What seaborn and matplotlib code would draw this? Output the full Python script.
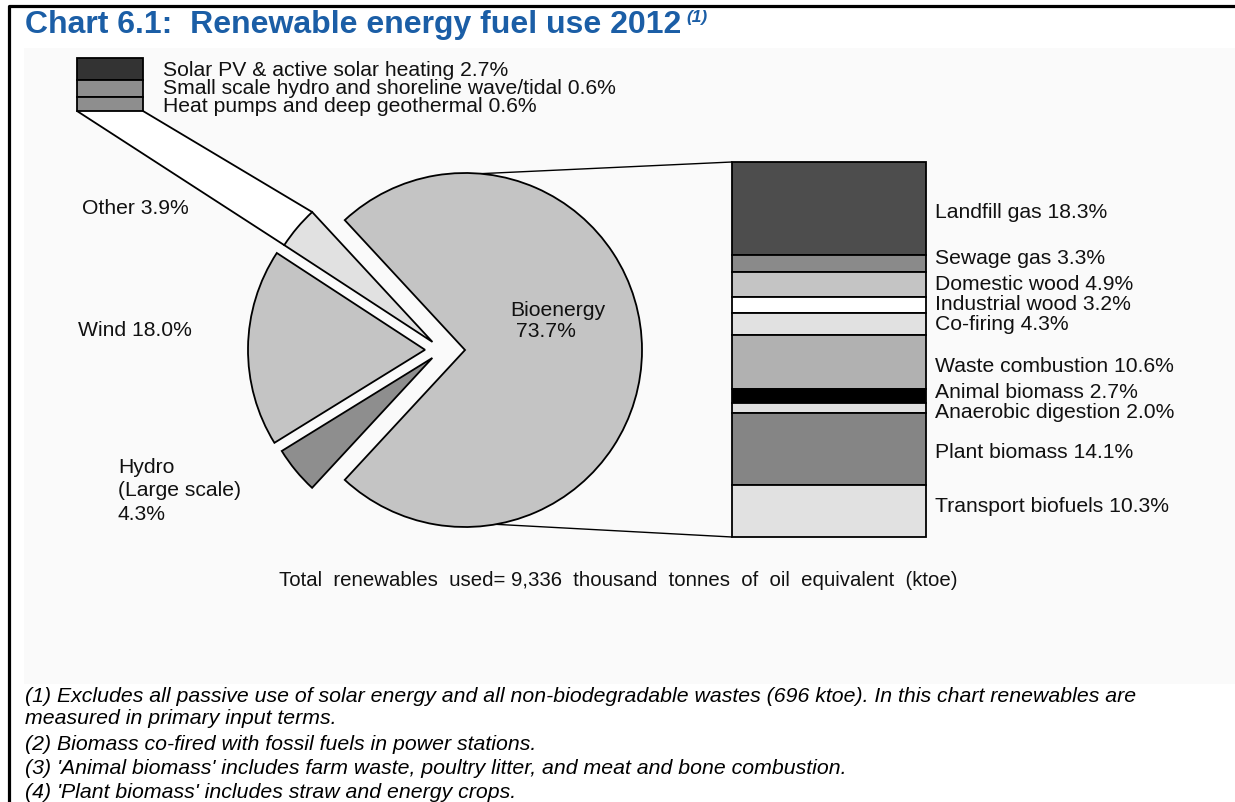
"""
Chart 6.1 - Renewable energy fuel use 2012: pie of the main fuels, with the
bioenergy slice broken down in a stacked bar and "Other" in a small key.
"""

import matplotlib
matplotlib.use("Agg")
import matplotlib.pyplot as plt
from matplotlib.patches import Rectangle
import numpy as np
import seaborn as sns


# ---------------------------------------------------------------- data
pie_labels = ["Bioenergy", "Other", "Wind", "Hydro\n(Large scale)"]
pie_shares = [73.7, 3.9, 18.0, 4.3]
pie_colors = ["#c4c4c4", "#e1e1e1", "#c4c4c4", "#8e8e8e"]

other_labels = [
    "Solar PV & active solar heating",
    "Small scale hydro and shoreline wave/tidal",
    "Heat pumps and deep geothermal",
]
other_shares = [2.7, 0.6, 0.6]
other_colors = ["#333333", "#8e8e8e", "#8e8e8e"]

bio_labels = [
    "Landfill gas", "Sewage gas", "Domestic wood", "Industrial wood",
    "Co-firing", "Waste combustion", "Animal biomass", "Anaerobic digestion",
    "Plant biomass", "Transport biofuels",
]
bio_shares = [18.3, 3.3, 4.9, 3.2, 4.3, 10.6, 2.7, 2.0, 14.1, 10.3]
bio_colors = [
    "#4d4d4d", "#8a8a8a", "#c4c4c4", "#ffffff", "#e1e1e1",
    "#b1b1b1", "#000000", "#e1e1e1", "#858585", "#e1e1e1",
]

total_ktoe = 9336

footnotes = [
    "(1) Excludes all passive use of solar energy and all non-biodegradable "
    "wastes (696 ktoe). In this chart renewables are",
    "measured in primary input terms.",
    "(2) Biomass co-fired with fossil fuels in power stations.",
    "(3) 'Animal biomass' includes farm waste, poultry litter, and meat and "
    "bone combustion.",
    "(4) 'Plant biomass' includes straw and energy crops.",
]

# ---------------------------------------------------------------- layout (pixels)
W, H = 1235, 802
PIE_CENTER = (442, H - 350)
PIE_R = 177
EXPLODE_PX = [23, 12.5, 17, 12.5]
BAR_BOX = (732, 162, 926, 537)          # left, top, right, bottom (image px)
KEY_BOX = (77, 58, 143, 111)
KEY_ROWS = [22, 17, 14]
BAR_TEXT_Y = [212, 258, 284, 305, 324, 366, 393, 412, 453, 507]
FS = 15.2
EDGE = dict(edgecolor="black", linewidth=1.3)


def img_y(y):
    return H - y


sns.set_theme(style="white")
plt.rcParams["font.family"] = ["Liberation Sans", "DejaVu Sans"]
plt.rcParams["text.color"] = "#111111"

fig = plt.figure(figsize=(W / 100, H / 100), dpi=100)
ax = fig.add_axes([0, 0, 1, 1])

# light panel behind the chart and the page frame
ax.add_patch(Rectangle((24, img_y(684)), W - 24, 684 - 48,
                       facecolor="#fafafa", edgecolor="none", zorder=0))
ax.plot([9, 9, W], [0, img_y(6), img_y(6)], color="black", lw=2.3,
        solid_capstyle="butt", zorder=5)

# ---- pie
start = -pie_shares[0] / sum(pie_shares) * 180
wedges, _ = ax.pie(
    pie_shares, colors=pie_colors, explode=EXPLODE_PX, startangle=start,
    radius=PIE_R, center=PIE_CENTER, wedgeprops=EDGE, frame=True,
)
for w in wedges:
    w.set_zorder(3)

# ---- "Other" key block and the band leading to it
kx0, ky0, kx1, ky1 = KEY_BOX
bottoms = np.cumsum([0] + KEY_ROWS[:-1])
ax.bar([(kx0 + kx1) / 2] * 3, [-h for h in KEY_ROWS],
       bottom=[img_y(ky0) - b for b in bottoms], width=kx1 - kx0,
       color=other_colors, zorder=3, **EDGE)
text_y = [70, 89, 107]
for lab, share, ty in zip(other_labels, other_shares, text_y):
    ax.text(163, img_y(ty), f"{lab} {share:.1f}%", fontsize=FS,
            va="center", ha="left")

wo = wedges[1]
cx, cy = wo.center
p_hi = (cx + wo.r * np.cos(np.radians(wo.theta1)),
        cy + wo.r * np.sin(np.radians(wo.theta1)))
p_lo = (cx + wo.r * np.cos(np.radians(wo.theta2)),
        cy + wo.r * np.sin(np.radians(wo.theta2)))
ax.fill([p_lo[0], kx0, kx1, p_hi[0]], [p_lo[1], img_y(ky1), img_y(ky1), p_hi[1]],
        color="white", zorder=2)
ax.plot([p_lo[0], kx0], [p_lo[1], img_y(ky1)], color="black", lw=1.3, zorder=4)
ax.plot([p_hi[0], kx1], [p_hi[1], img_y(ky1)], color="black", lw=1.3, zorder=4)

# ---- pie labels
ax.text(82, img_y(208), f"Other {pie_shares[1]:.1f}%", fontsize=FS, va="center")
ax.text(78, img_y(330), f"Wind {pie_shares[2]:.1f}%", fontsize=FS, va="center")
ax.text(118, img_y(491), f"{pie_labels[3]}\n{pie_shares[3]:.1f}%", fontsize=FS,
        va="center", linespacing=1.3)
ax.text(510, img_y(321), f"{pie_labels[0]}\n {pie_shares[0]:.1f}%", fontsize=FS,
        va="center", linespacing=1.1, zorder=6)

# ---- lines from the bioenergy slice to the breakdown bar
bx0, by0, bx1, by1 = BAR_BOX
wb = wedges[0]
bc = wb.center
for ang, yb in [(85, by0), (-80, by1)]:
    ax.plot([bc[0] + wb.r * np.cos(np.radians(ang)), bx0],
            [bc[1] + wb.r * np.sin(np.radians(ang)), img_y(yb)],
            color="black", lw=1.0, zorder=2)

ax.text(618, img_y(581),
        f"Total  renewables  used= {total_ktoe:,}  thousand  tonnes  of  oil  "
        "equivalent  (ktoe)", fontsize=FS - 0.5, ha="center", va="center")

# ---- title
title = ax.text(25, img_y(25), "Chart 6.1:  Renewable energy fuel use 2012",
                fontsize=23, fontweight="bold", color="#1b5ea6", va="center")
ax.annotate("(1)", xy=(1, 1), xycoords=title, xytext=(4, 0),
            textcoords="offset points", fontsize=12.5, fontweight="bold",
            fontstyle="italic", color="#1b5ea6", va="top")

# ---- footnotes
for line, fy in zip(footnotes, [696, 719, 745, 769, 793]):
    ax.text(25, img_y(fy), line, fontsize=15.3, fontstyle="italic",
            va="center", color="black")

ax.set_xlim(0, W)
ax.set_ylim(0, H)
ax.set_aspect("auto")
ax.axis("off")

# ---- bioenergy breakdown as a stacked bar
ax2 = fig.add_axes([bx0 / W, (H - by1) / H, (bx1 - bx0) / W, (by1 - by0) / H])
cum = np.concatenate([[0], np.cumsum(bio_shares)[:-1]])
bars = ax2.bar([0] * len(bio_shares), bio_shares, bottom=cum, width=1,
               color=bio_colors, **EDGE)
for b in bars:
    b.set_clip_on(False)
ax2.set_xlim(-0.5, 0.5)
ax2.set_ylim(sum(bio_shares), 0)
ax2.axis("off")
for lab, share, ty in zip(bio_labels, bio_shares, BAR_TEXT_Y):
    ax.text(935, img_y(ty), f"{lab} {share:.1f}%", fontsize=FS,
            va="center", ha="left")

fig.savefig("out.png", dpi=100)
plt.close(fig)
